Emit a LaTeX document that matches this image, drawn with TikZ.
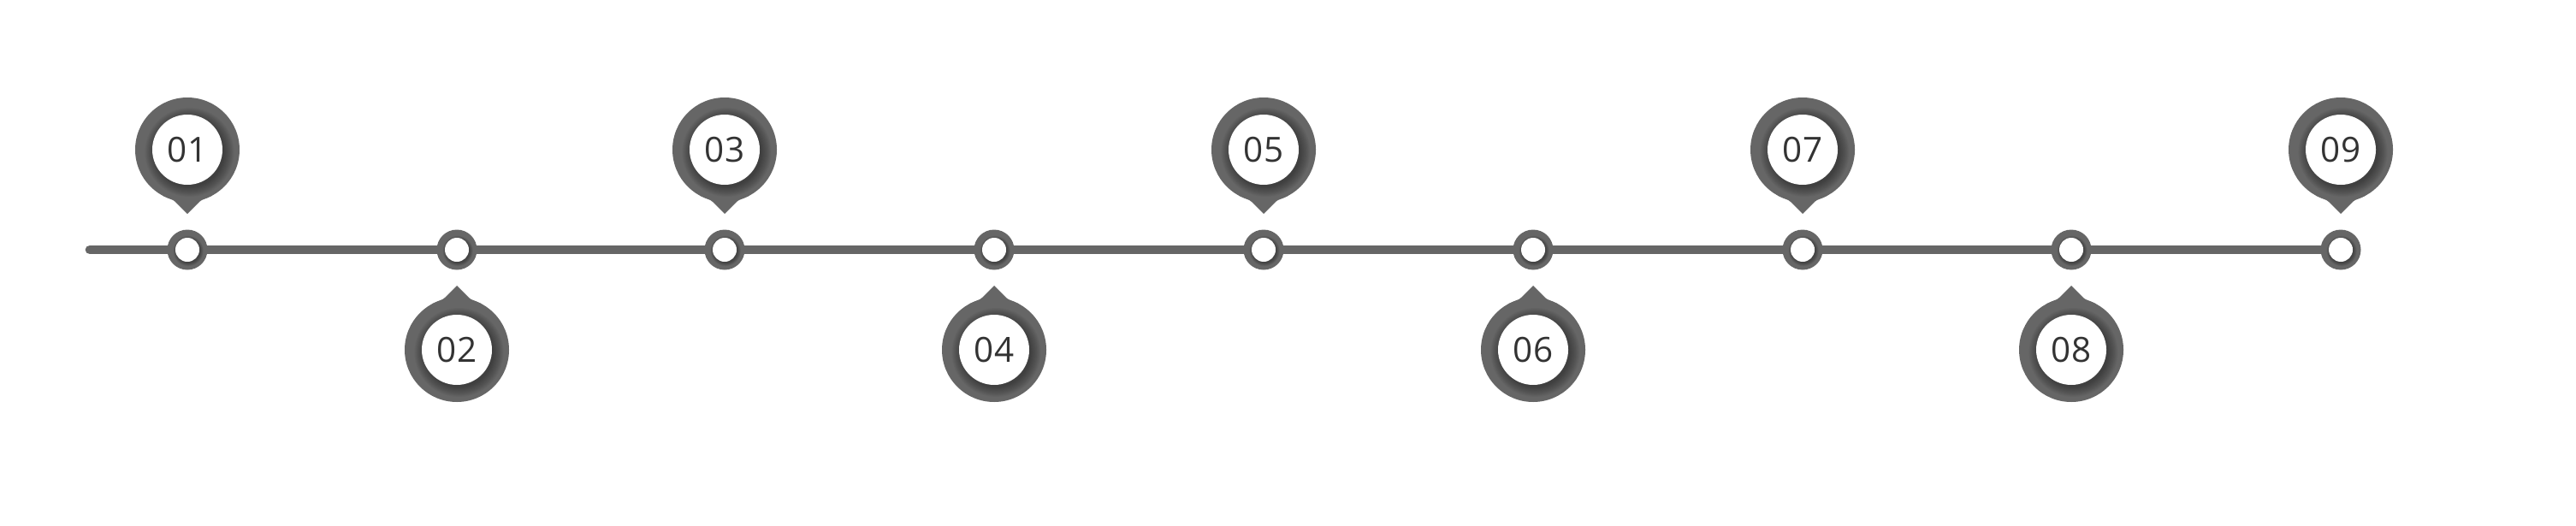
\documentclass[tikz,border=0pt]{standalone}
\usepackage{fontspec}
\setmainfont{Open Sans}
\definecolor{gy}{HTML}{666666}
\definecolor{txt}{HTML}{333333}
\tikzset{
  pics/pin/.style={code={
    \fill[gy] (0,0) circle (0.61);
    \fill[gy,rotate=#1] (-118:0.61) .. controls +(-28:0.06) and +(135:0.05) .. (-0.14,-0.61)
        -- (0,-0.75) -- (0.14,-0.61) .. controls +(45:0.05) and +(-152:0.06) .. (-62:0.61) -- cycle;
    \foreach \k in {0,...,10}{\fill[black,opacity=0.035] (0.025,-0.03) circle ({0.41+0.011*\k});}
    \fill[white] (0,0) circle (0.41);
  }},
  pics/dot/.style={code={
    \fill[gy] (0,0) circle (0.235);
    \foreach \k in {0,...,6}{\fill[black,opacity=0.05] (0.012,-0.015) circle ({0.14+0.006*\k});}
    \fill[white] (0,0) circle (0.14);
  }},
  timeline/.style={draw=gy,line width=0.107cm,line cap=round},
  num/.style={text=txt,font=\fontsize{11.5}{13}\selectfont,inner sep=0pt}
}
\begin{document}
\begin{tikzpicture}
\useasboundingbox (0,0) rectangle (30.11,-6.15);
\coordinate (start) at (1.05,-2.92);
\foreach \i/\x in {1/2.19,2/5.34,3/8.47,4/11.62,5/14.77,6/17.92,7/21.07,8/24.21,9/27.36}{
  \coordinate (c\i) at (\x,-2.92);
}
\draw[timeline] (start) -- (c9);
\foreach \i in {1,...,9}{\pic at (c\i) {dot};}
\foreach \i/\x in {1/2.19,3/8.47,5/14.77,7/21.07,9/27.36}{
  \pic at (\x,-1.75) {pin=0};
  \node[num] (p\i) at (\x,-1.75) {0\i};
}
\foreach \i/\x in {2/5.34,4/11.62,6/17.92,8/24.21}{
  \pic at (\x,-4.09) {pin=180};
  \node[num] (p\i) at (\x,-4.09) {0\i};
}
\end{tikzpicture}
\end{document}
